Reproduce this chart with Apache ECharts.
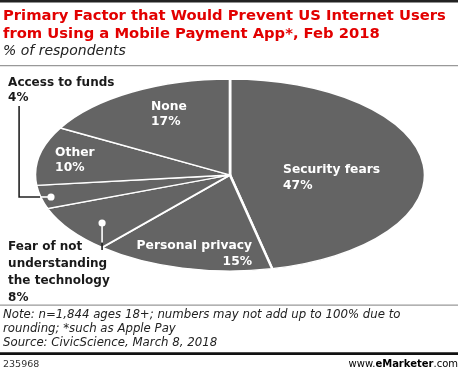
<!DOCTYPE html>
<html><head><meta charset="utf-8">
<script src="https://cdn.jsdelivr.net/npm/echarts@6/dist/echarts.min.js"></script>
<style>
html,body{margin:0;padding:0;background:#fff;}
#wrap{position:relative;width:458px;height:371px;overflow:hidden;}
#pie,#chart{position:absolute;left:0;top:0;width:458px;height:371px;}
</style>
</head><body><div id="wrap"><div id="pie"></div><div id="chart"></div></div>
<script>
// ---- data ----
const categories = ['Security fears', 'Personal privacy', 'Fear of not\nunderstanding\nthe technology', 'Access to funds', 'Other', 'None'];
const values = [47, 15, 8, 4, 10, 17];
const titleLines = ['Primary Factor that Would Prevent US Internet Users', 'from Using a Mobile Payment App*, Feb 2018'];
const subtitle = '% of respondents';
const noteLines = ['Note: n=1,844 ages 18+; numbers may not add up to 100% due to', 'rounding; *such as Apple Pay', 'Source: CivicScience, March 8, 2018'];
const chartId = '235968';

// ---- geometry / style ----
const CX = 230, CY = 175, RX = 195, RY = 96;
const FONT = '"DejaVu Sans", Verdana, sans-serif';
const spots = [
  {u: 0.272, v: 0.031, align: 'left', color: '#fff', lh: 16, fs: 12.3},
  {u: 0.113, v: 0.823, align: 'right', color: '#fff', lh: 16, fs: 12.3},
  {u: -1.138, v: 1.01, align: 'left', color: '#1a1a1a', lh: 17, fs: 12, dot: [-0.656, 0.5], path: 'down'},
  {u: -1.138, v: -0.88, align: 'left', color: '#1a1a1a', lh: 15, fs: 12, dot: [-0.918, 0.229], path: 'leftUp'},
  {u: -0.897, v: -0.151, align: 'left', color: '#fff', lh: 15, fs: 12.3},
  {u: -0.405, v: -0.63, align: 'left', color: '#fff', lh: 15, fs: 12.3}
];
function dotPos(s) { return [CX + s.dot[0] * RX, CY + s.dot[1] * RY]; }
function edgePoint(s) {
  const d = dotPos(s);
  if (s.path === 'leftUp') {
    const t = (d[1] - CY) / RY;
    return [CX - RX * Math.sqrt(1 - t * t), d[1]];
  }
  const t = (d[0] - CX) / RX;
  return [d[0], CY + RY * Math.sqrt(1 - t * t) - 5];
}
function leaderPoints(s, lx, ly) {
  const e = edgePoint(s);
  if (s.path === 'leftUp') {
    const x = lx + 11;
    return [e, [x, e[1]], [x, ly + 15.5]];
  }
  const endY = ly - 22;
  return [e, [e[0], (e[1] + endY) / 2], [e[0], endY]];
}

// ---- stretched pie (ellipse) ----
const pieEl = document.getElementById('pie');
pieEl.style.transformOrigin = CX + 'px ' + CY + 'px';
pieEl.style.transform = 'scaleX(' + (RX / RY) + ')';
const pie = echarts.init(pieEl, null, {renderer: 'svg'});
pie.setOption({
  animation: false,
  series: [{
    type: 'pie', center: [CX, CY], radius: RY, startAngle: 90, clockwise: true,
    silent: true, label: {show: false}, labelLine: {show: false},
    itemStyle: {color: '#646464', borderColor: '#fff', borderWidth: 1.3},
    data: categories.map((c, i) => ({name: c, value: values[i]}))
  }]
});

// ---- overlay: labels, texts ----
const chart = echarts.init(document.getElementById('chart'));
const graphics = [
  {type: 'rect', shape: {x: 0, y: 0, width: 458, height: 2.5}, style: {fill: '#222'}},
  {type: 'rect', shape: {x: 0, y: 65, width: 458, height: 1.3}, style: {fill: '#999'}},
  {type: 'rect', shape: {x: 0, y: 304.5, width: 458, height: 1.3}, style: {fill: '#999'}},
  {type: 'rect', shape: {x: 0, y: 352.3, width: 458, height: 2.7}, style: {fill: '#111'}}
];
titleLines.forEach((t, i) => graphics.push({type: 'text', x: 3, y: 16 + i * 18, style: {text: t, fill: '#e20000', font: 'bold 14.75px ' + FONT, verticalAlign: 'middle'}}));
graphics.push({type: 'text', x: 3, y: 51.5, style: {text: subtitle, fill: '#222', font: 'italic 14px ' + FONT, verticalAlign: 'middle'}});
noteLines.forEach((t, i) => graphics.push({type: 'text', x: 3, y: 314.7 + i * 13.9, style: {text: t, fill: '#222', font: 'italic 11.75px ' + FONT, verticalAlign: 'middle'}}));
graphics.push({type: 'text', x: 3, y: 364.5, style: {text: chartId, fill: '#333', font: '9.5px ' + FONT, verticalAlign: 'middle'}});
graphics.push({type: 'text', x: 458, y: 364.5, style: {
  text: '{a|www.}{e|e}{m|Marketer}{a|.com}', align: 'right', verticalAlign: 'middle',
  rich: {a: {fontSize: 10, fontFamily: FONT, color: '#333'},
         e: {fontSize: 10, fontFamily: FONT, fontWeight: 'bold', color: '#e20000'},
         m: {fontSize: 10, fontFamily: FONT, fontWeight: 'bold', color: '#222'}}
}});
spots.forEach(s => {
  if (!s.dot) return;
  const d = dotPos(s), e = edgePoint(s);
  graphics.push({type: 'line', z: 50, shape: {x1: d[0], y1: d[1], x2: e[0], y2: e[1]}, style: {stroke: '#fff', lineWidth: 1.6}});
  graphics.push({type: 'circle', z: 51, shape: {cx: d[0], cy: d[1], r: 3.6}, style: {fill: '#fff'}});
});

chart.setOption({
  animation: false,
  graphic: graphics,
  series: [{
    type: 'pie', center: [CX, CY], radius: RY, startAngle: 90, clockwise: true, silent: true,
    emphasis: {disabled: true},
    itemStyle: {color: 'rgba(0,0,0,0)', borderWidth: 0},
    labelLine: {show: false, lineStyle: {color: '#222', width: 1.6}},
    label: {fontFamily: FONT, fontWeight: 'bold', fontSize: 12, overflow: 'none', formatter: p => p.name + '\n' + p.value + '%'},
    labelLayout: function (p) {
      const s = spots[p.dataIndex];
      const x = CX + s.u * RX, y = CY + s.v * RY;
      const r = {x: x, y: y, align: s.align, verticalAlign: 'middle'};
      if (s.dot) r.labelLinePoints = leaderPoints(s, x, y);
      return r;
    },
    data: categories.map((c, i) => {
      const s = spots[i];
      return {
        name: c, value: values[i],
        label: {position: s.dot ? 'outside' : 'inside', color: s.color, lineHeight: s.lh, fontSize: s.fs,
                width: 200, overflow: 'none', alignTo: 'none'},
        labelLine: {show: !!s.dot}
      };
    })
  }]
});
</script>
</body></html>
